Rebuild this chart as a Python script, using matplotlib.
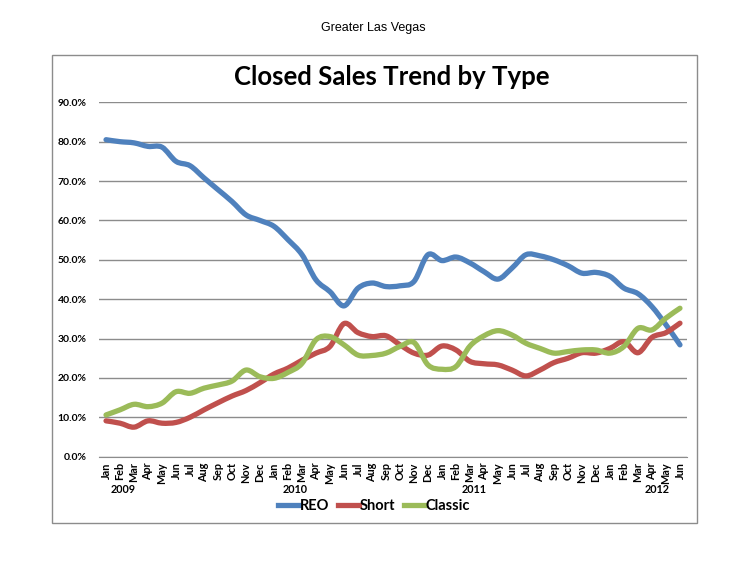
import numpy as np
import matplotlib
matplotlib.use("Agg")
import matplotlib.pyplot as plt
from matplotlib.patches import Rectangle, PathPatch
from matplotlib.path import Path
from matplotlib.lines import Line2D
from matplotlib.ticker import PercentFormatter

months = ["Jan", "Feb", "Mar", "Apr", "May", "Jun",
          "Jul", "Aug", "Sep", "Oct", "Nov", "Dec"] * 3 + \
         ["Jan", "Feb", "Mar", "Apr", "May", "Jun"]
years = ["2009", "2010", "2011", "2012"]
year_pos = [1.25, 13.5, 26.3, 39.4]

reo = [80.5, 80.0, 79.7, 78.8, 78.6, 75.0, 73.9, 70.8, 67.8, 64.8, 61.4, 60.0,
       58.5, 55.1, 51.3, 44.9, 41.9, 38.3, 42.8, 44.1, 43.2, 43.4, 44.5, 51.3,
       49.8, 50.7, 49.2, 47.0, 45.1, 47.9, 51.3, 51.0, 50.0, 48.5, 46.6, 46.8,
       45.8, 42.8, 41.4, 38.1, 33.5, 28.4]
short = [9.1, 8.5, 7.5, 9.1, 8.5, 8.7, 10.0, 11.9, 13.7, 15.4, 16.8, 18.8,
         21.0, 22.5, 24.5, 26.3, 28.0, 33.8, 31.5, 30.5, 30.7, 28.4, 26.3, 25.8,
         28.1, 27.1, 24.2, 23.6, 23.3, 22.0, 20.5, 22.0, 23.9, 25.0, 26.4, 26.3,
         27.5, 29.2, 26.4, 30.3, 31.5, 33.9]
classic = [10.6, 11.9, 13.3, 12.7, 13.6, 16.5, 16.1, 17.4, 18.2, 19.2, 22.0, 20.3,
           19.9, 21.4, 23.7, 29.7, 30.5, 28.4, 25.8, 25.7, 26.3, 28.0, 29.0, 23.3,
           22.2, 22.9, 28.1, 30.7, 32.0, 30.9, 28.8, 27.5, 26.3, 26.7, 27.1, 27.1,
           26.3, 28.0, 32.6, 32.2, 35.2, 37.7]

colors = {"REO": "#4F81BD", "Short": "#C0504D", "Classic": "#9BBB59"}
LW = 3.8


def smooth_path(xs, ys, t=1 / 6):
    # Excel style smoothed line: cubic bezier through every point
    pts = np.column_stack([xs, ys]).astype(float)
    verts = [pts[0]]
    codes = [Path.MOVETO]
    n = len(pts)
    for i in range(n - 1):
        p0 = pts[i - 1] if i > 0 else pts[i]
        p1, p2 = pts[i], pts[i + 1]
        p3 = pts[i + 2] if i + 2 < n else pts[i + 1]
        verts += [p1 + (p2 - p0) * t, p2 - (p3 - p1) * t, p2]
        codes += [Path.CURVE4] * 3
    return Path(verts, codes)


x = np.arange(len(months))

fig = plt.figure(figsize=(7.48, 5.78), dpi=100)
fig.patch.set_facecolor("white")

# chart frame
fig.patches.append(Rectangle((0.0695, 0.0952), 0.862, 0.8097, transform=fig.transFigure,
                             fill=False, edgecolor="#8c8c8c", linewidth=1.0))

fig.text(0.499, 0.951, "Greater Las Vegas", ha="center", va="center",
         fontsize=9, family="Liberation Sans")
fig.text(0.524, 0.867, "Closed Sales Trend by Type", ha="center", va="center",
         fontsize=18.5, fontweight="bold", family="Lato")

ax = fig.add_axes([0.1324, 0.2099, 0.786, 0.6131])
for name, vals in [("REO", reo), ("Short", short), ("Classic", classic)]:
    ax.add_patch(PathPatch(smooth_path(x, vals), fill=False, edgecolor=colors[name],
                           lw=LW, joinstyle="round", capstyle="round"))

ax.set_xlim(-0.5, len(months) - 0.5)
ax.set_ylim(0, 90)
ax.set_yticks(np.arange(0, 91, 10))
ax.yaxis.set_major_formatter(PercentFormatter(decimals=1))
ax.grid(axis="y", color="#8c8c8c", lw=1.0)
ax.set_axisbelow(True)
for s in ["left", "right", "top"]:
    ax.spines[s].set_visible(False)
ax.spines["bottom"].set_color("#8c8c8c")
ax.tick_params(axis="y", length=0, pad=9, labelsize=7.5)
ax.tick_params(axis="x", length=0, pad=4, labelsize=7.8)
ax.set_xticks(x)
ax.set_xticklabels(months, rotation=90, va="top", ha="center")
for lab in ax.get_yticklabels() + ax.get_xticklabels():
    lab.set_fontweight("bold")
    lab.set_family("Lato")

for yr, p in zip(years, year_pos):
    ax.text(p, -0.093, yr, transform=ax.get_xaxis_transform(), ha="center", va="center",
            fontsize=7.8, fontweight="bold", family="Lato")

handles = [Line2D([], [], color=colors[k], lw=LW) for k in colors]
ax.legend(handles, list(colors), loc="center", bbox_to_anchor=(0.468, -0.14), ncol=3,
          frameon=False, handlelength=1.45, handletextpad=0.05, columnspacing=0.6,
          prop={"family": "Lato", "weight": "bold", "size": 10.5})

fig.savefig("out.png", dpi=100)
